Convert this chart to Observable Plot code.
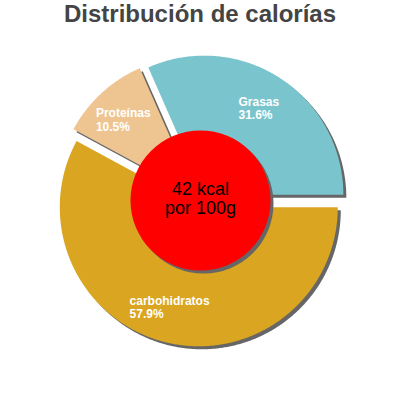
<!DOCTYPE html>
<html>
<head>
<meta charset="utf-8">
<script src="https://cdn.jsdelivr.net/npm/d3@7"></script>
<script src="https://cdn.jsdelivr.net/npm/@observablehq/plot@0.6"></script>
<style>
  html, body { margin: 0; padding: 0; background: #fff; }
  #title { width: 400px; height: 40px; line-height: 34px; text-align: center;
           font: bold 24px "Liberation Sans", Arial, sans-serif; color: #444; }
  svg { display: block; }
  g[aria-label="slice-labels"] text { letter-spacing: 0.6px; }
</style>
</head>
<body>
<div id="title">Distribución de calorías</div>
<div id="chart"></div>
<script>
// ---- data ----
const categories = ["Grasas", "Proteínas", "carbohidratos"];
const percents = [31.6, 10.5, 57.9];
const colors = ["#7AC5CD", "#EEC591", "#DAA520"];
const centerLines = ["42 kcal", "por 100g"];

// ---- layout ----
const R = 139, explode = 7, shadowOff = 3, labelR = 103, holeR = 70;
const labelSize = 12, labelSpacing = 0.6;
const labelFont = `bold ${labelSize}px 'Liberation Sans', Arial, sans-serif`;

const rows = categories.map((name, i) => ({name, value: percents[i]}));
const arcs = d3.pie().sort(null).value(d => d.value)
  .startAngle(Math.PI / 2).endAngle(Math.PI / 2 - 2 * Math.PI)(rows);

const slicePts = [], shadowPts = [], labels = [];
const ctx = document.createElement("canvas").getContext("2d");
ctx.font = labelFont;
for (const a of arcs) {
  const mid = (a.startAngle + a.endAngle) / 2;
  const ox = explode * Math.sin(mid), oy = -explode * Math.cos(mid);
  const pts = [{x: ox, y: oy}];
  const n = Math.max(2, Math.ceil(Math.abs(a.endAngle - a.startAngle) / (Math.PI / 360)));
  for (let k = 0; k <= n; k++) {
    const t = a.startAngle + (a.endAngle - a.startAngle) * k / n;
    pts.push({x: ox + R * Math.sin(t), y: oy - R * Math.cos(t)});
  }
  pts.push({x: ox, y: oy});
  for (const p of pts) {
    slicePts.push({name: a.data.name, x: p.x, y: p.y});
    shadowPts.push({name: a.data.name, x: p.x + shadowOff, y: p.y + shadowOff});
  }
  const lines = [a.data.name, a.data.value.toFixed(1) + "%"];
  const w = Math.max(...lines.map(s => ctx.measureText(s).width + s.length * labelSpacing));
  labels.push({
    x: ox + labelR * Math.sin(mid) - w / 2,
    y: oy - labelR * Math.cos(mid),
    text: lines.join("\n")
  });
}

const chart = Plot.plot({
  width: 400,
  height: 360,
  margin: 0,
  x: {domain: [-200, 200], range: [0, 400], axis: null},
  y: {domain: [-160, 200], range: [0, 360], axis: null},
  color: {domain: categories, range: colors},
  style: {fontFamily: "'Liberation Sans', Arial, sans-serif", background: "white"},
  marks: [
    Plot.line(shadowPts, {x: "x", y: "y", z: "name", fill: "#666", stroke: "none"}),
    Plot.line(slicePts, {x: "x", y: "y", z: "name", fill: "name", stroke: "none"}),
    Plot.dot([{x: shadowOff, y: shadowOff}], {x: "x", y: "y", r: holeR, fill: "#666"}),
    Plot.dot([{x: 0, y: 0}], {x: "x", y: "y", r: holeR, fill: "#FF0000"}),
    Plot.text(labels, {x: "x", y: "y", text: "text", textAnchor: "start", lineAnchor: "middle",
      fill: "white", fontSize: labelSize, fontWeight: "bold", lineHeight: 1.12, ariaLabel: "slice-labels"}),
    Plot.text([{x: 0, y: -2, text: centerLines.join("\n")}], {x: "x", y: "y", text: "text",
      lineAnchor: "middle", fill: "black", fontSize: 18, lineHeight: 1.06})
  ]
});
document.getElementById("chart").appendChild(chart);
</script>
</body>
</html>
